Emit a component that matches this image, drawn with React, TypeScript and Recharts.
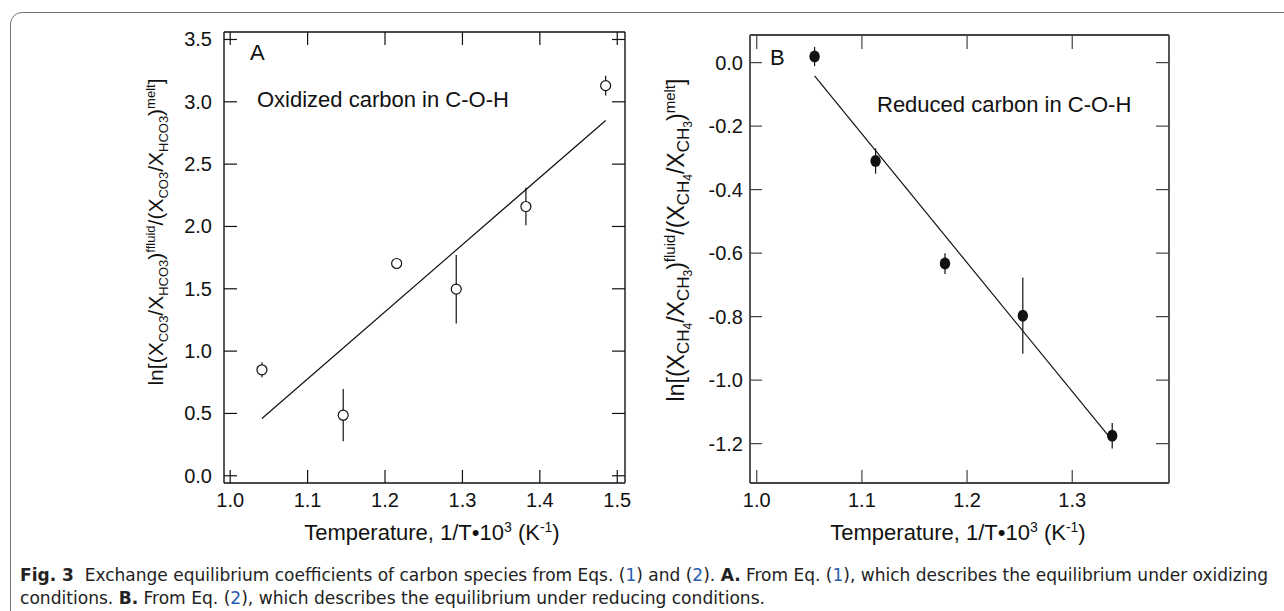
import React from "react"
import { ScatterChart, Scatter, XAxis, YAxis, ErrorBar } from "recharts"

// Panel A: oxidized carbon
const tempA = [1.041, 1.146, 1.215, 1.292, 1.382, 1.485]
const lnKA = [0.85, 0.486, 1.703, 1.497, 2.16, 3.13]
const errA = [0.06, 0.21, 0.0, 0.275, 0.15, 0.08]
const fitTempA = [1.041, 1.485]
const fitLnKA = [0.46, 2.85]
const xTicksA = [1.0, 1.1, 1.2, 1.3, 1.4, 1.5]
const yTicksA = [0, 0.5, 1.0, 1.5, 2.0, 2.5, 3.0, 3.5]

// Panel B: reduced carbon
const tempB = [1.055, 1.113, 1.179, 1.253, 1.338]
const lnKB = [0.019, -0.31, -0.633, -0.797, -1.175]
const errB = [0.03, 0.04, 0.033, 0.12, 0.04]
const fitTempB = [1.055, 1.338]
const fitLnKB = [-0.042, -1.19]
const xTicksB = [1.0, 1.1, 1.2, 1.3]
const yTicksB = [0, -0.2, -0.4, -0.6, -0.8, -1.0, -1.2]

const FONT = "'Liberation Sans', Arial, Helvetica, sans-serif"
const INK = "#111"

const pts = (xs: number[], ys: number[], es?: number[]) =>
  xs.map((x, i) => ({ x, y: ys[i], err: es ? es[i] : 0 }))

const fmt = (v: number) => v.toFixed(1)

// inward ticks, optionally with a label outside the frame
function makeTick(side: string, len: number, color: string, gap = 0, label = true) {
  return (props: any) => {
    const { x, y, payload } = props
    const txt = label ? fmt(payload.value) : null
    if (side === "bottom")
      return (
        <g>
          <line x1={x} x2={x} y1={y} y2={y - len} stroke={color} strokeWidth={1.2} />
          {txt && (
            <text x={x} y={y + 24} textAnchor="middle" fontSize={20} fontFamily={FONT} fill={INK}>
              {txt}
            </text>
          )}
        </g>
      )
    if (side === "top")
      return <line x1={x} x2={x} y1={y} y2={y + len} stroke={color} strokeWidth={1.2} />
    if (side === "left")
      return (
        <g>
          <line x1={x} x2={x + len} y1={y} y2={y} stroke={color} strokeWidth={1.2} />
          {txt && (
            <text x={x - gap} y={y + 7} textAnchor="end" fontSize={20} fontFamily={FONT} fill={INK}>
              {txt}
            </text>
          )}
        </g>
      )
    return <line x1={x} x2={x - len} y1={y} y2={y} stroke={color} strokeWidth={1.2} />
  }
}

const dotShape = (filled: boolean) => (props: any) => {
  const { cx, cy } = props
  if (cx == null || cy == null) return <g />
  return filled ? (
    <ellipse cx={cx} cy={cy} rx={5.2} ry={6} fill={INK} />
  ) : (
    <circle cx={cx} cy={cy} r={5} fill="#fff" stroke={INK} strokeWidth={1.2} />
  )
}

const empty = () => <g />

function Panel(p: {
  width: number
  margin: any
  xDomain: number[]
  yDomain: number[]
  xTicks: number[]
  yTicks: number[]
  data: any[]
  fit: any[]
  filled: boolean
  frame: string
  frameW: number
  ticks: { b: number; t: number; l: number; r: number; gap: number }
}) {
  const axisLine = { stroke: p.frame, strokeWidth: p.frameW }
  const common = {
    type: "number" as const,
    interval: 0,
    allowDataOverflow: true,
    tickSize: 0,
    tickMargin: 0,
    tickLine: false,
    axisLine,
  }
  return (
    <ScatterChart width={p.width} height={560} margin={p.margin}>
      <XAxis xAxisId="b" dataKey="x" orientation="bottom" height={40} domain={p.xDomain} ticks={p.xTicks}
        {...common} tick={makeTick("bottom", p.ticks.b, p.frame)} />
      <XAxis xAxisId="t" dataKey="x" orientation="top" height={10} domain={p.xDomain} ticks={p.xTicks}
        {...common} tick={makeTick("top", p.ticks.t, p.frame, 0, false)} />
      <YAxis yAxisId="l" dataKey="y" orientation="left" width={60} domain={p.yDomain} ticks={p.yTicks}
        {...common} tick={makeTick("left", p.ticks.l, p.frame, p.ticks.gap)} />
      <YAxis yAxisId="r" dataKey="y" orientation="right" width={10} domain={p.yDomain} ticks={p.yTicks}
        {...common} tick={makeTick("right", p.ticks.r, p.frame, 0, false)} />
      <Scatter xAxisId="b" yAxisId="l" data={p.fit} line={{ stroke: INK, strokeWidth: 1.2 }} shape={empty}
        isAnimationActive={false} />
      <Scatter xAxisId="b" yAxisId="l" data={p.data} shape={empty} isAnimationActive={false}>
        <ErrorBar dataKey="err" direction="y" width={0} stroke={INK} strokeWidth={1.2} isAnimationActive={false} />
      </Scatter>
      <Scatter xAxisId="b" yAxisId="l" data={p.data} shape={dotShape(p.filled)} isAnimationActive={false} />
    </ScatterChart>
  )
}

const sub = (s: string, size = 14) => <tspan fontSize={size} dy={5}>{s}</tspan>

export default function App() {
  const dataA = pts(tempA, lnKA, errA)
  const fitA = pts(fitTempA, fitLnKA)
  const dataB = pts(tempB, lnKB, errB)
  const fitB = pts(fitTempB, fitLnKB)
  const blue = "#2a5db0"

  return (
    <div style={{ position: "fixed", left: 0, top: 0, width: 1284, height: 611, overflow: "hidden", background: "#fff" }}>
      <div
        style={{
          position: "absolute",
          left: 10,
          top: 12,
          width: 1320,
          height: 640,
          border: "1px solid #777",
          borderTopLeftRadius: 12,
        }}
      />
      <div style={{ position: "absolute", left: 0, top: 0 }}>
        <Panel
          width={660}
          margin={{ top: 22, right: 25, bottom: 37, left: 164 }}
          xDomain={[0.992, 1.51]}
          yDomain={[-0.058, 3.56]}
          xTicks={xTicksA}
          yTicks={yTicksA}
          data={dataA}
          fit={fitA}
          filled={false}
          frame="#111"
          frameW={1.4}
          ticks={{ b: 13, t: 13, l: 13, r: 13, gap: 12 }}
        />
      </div>
      <div style={{ position: "absolute", left: 660, top: 0 }}>
        <Panel
          width={620}
          margin={{ top: 25, right: 101, bottom: 37, left: 30 }}
          xDomain={[0.9936, 1.392]}
          yDomain={[-1.324, 0.087]}
          xTicks={xTicksB}
          yTicks={yTicksB}
          data={dataB}
          fit={fitB}
          filled={true}
          frame="#444"
          frameW={1.8}
          ticks={{ b: 13, t: 14, l: 12, r: 13, gap: 7 }}
        />
      </div>
      <svg
        width={1284}
        height={611}
        style={{ position: "absolute", left: 0, top: 0, pointerEvents: "none" }}
        fontFamily={FONT}
        fill={INK}
      >
        <text x={250} y={60} fontSize={22}>A</text>
        <text x={257} y={107} fontSize={22}>Oxidized carbon in C-O-H</text>
        <text x={770} y={65} fontSize={22}>B</text>
        <text x={877} y={112} fontSize={22}>Reduced carbon in C-O-H</text>

        <text x={432} y={540} fontSize={22} textAnchor="middle">
          Temperature, 1/T•10<tspan fontSize={14} dy={-8}>3</tspan>
          <tspan dy={8}> (K</tspan>
          <tspan fontSize={14} dy={-8}>-1</tspan>
          <tspan dy={8}>)</tspan>
        </text>
        <text x={958} y={540} fontSize={22} textAnchor="middle">
          Temperature, 1/T•10<tspan fontSize={14} dy={-8}>3</tspan>
          <tspan dy={8}> (K</tspan>
          <tspan fontSize={14} dy={-8}>-1</tspan>
          <tspan dy={8}>)</tspan>
        </text>

        <text x={163} y={232} fontSize={21} textAnchor="middle" transform="rotate(-90 163 232)">
          ln[(X{sub("CO3", 13)}
          <tspan dy={-5}>/X</tspan>
          {sub("HCO3", 13)}
          <tspan dy={-5}>)</tspan>
          <tspan fontSize={13} dy={-8}>ffluid</tspan>
          <tspan dy={8}>/(X</tspan>
          {sub("CO3", 13)}
          <tspan dy={-5}>/X</tspan>
          {sub("HCO3", 13)}
          <tspan dy={-5}>)</tspan>
          <tspan fontSize={13} dy={-8}>melt</tspan>
          <tspan dy={8}>]</tspan>
        </text>

        <text x={684} y={240} fontSize={23} textAnchor="middle" transform="rotate(-90 684 240)">
          ln[(X<tspan fontSize={17} dy={5}>CH</tspan>
          <tspan fontSize={12} dy={3}>4</tspan>
          <tspan dy={-8}>/X</tspan>
          <tspan fontSize={17} dy={5}>CH</tspan>
          <tspan fontSize={12} dy={3}>3</tspan>
          <tspan dy={-8}>)</tspan>
          <tspan fontSize={15} dy={-9}>fluid</tspan>
          <tspan dy={9}>/(X</tspan>
          <tspan fontSize={17} dy={5}>CH</tspan>
          <tspan fontSize={12} dy={3}>4</tspan>
          <tspan dy={-8}>/X</tspan>
          <tspan fontSize={17} dy={5}>CH</tspan>
          <tspan fontSize={12} dy={3}>3</tspan>
          <tspan dy={-8}>)</tspan>
          <tspan fontSize={15} dy={-9}>melt</tspan>
          <tspan dy={9}>]</tspan>
        </text>

        <g fontFamily="'Liberation Sans Narrow', 'DejaVu Sans Condensed', 'Open Sans', sans-serif" fill="#222">
          <text x={20} y={581} fontSize={18} textLength={1248} lengthAdjust="spacingAndGlyphs" style={{ whiteSpace: "pre" }}>
            <tspan fontWeight="bold">Fig. 3</tspan>
            <tspan>{"  Exchange equilibrium coefficients of carbon species from Eqs. ("}</tspan>
            <tspan fill={blue}>1</tspan>
            <tspan>{") and ("}</tspan>
            <tspan fill={blue}>2</tspan>
            <tspan>{"). "}</tspan>
            <tspan fontWeight="bold">A.</tspan>
            <tspan>{" From Eq. ("}</tspan>
            <tspan fill={blue}>1</tspan>
            <tspan>{"), which describes the equilibrium under oxidizing"}</tspan>
          </text>
          <text x={20} y={604} fontSize={18} textLength={745} lengthAdjust="spacingAndGlyphs" style={{ whiteSpace: "pre" }}>
            <tspan>{"conditions. "}</tspan>
            <tspan fontWeight="bold">B.</tspan>
            <tspan>{" From Eq. ("}</tspan>
            <tspan fill={blue}>2</tspan>
            <tspan>{"), which describes the equilibrium under reducing conditions."}</tspan>
          </text>
        </g>
      </svg>
    </div>
  )
}
